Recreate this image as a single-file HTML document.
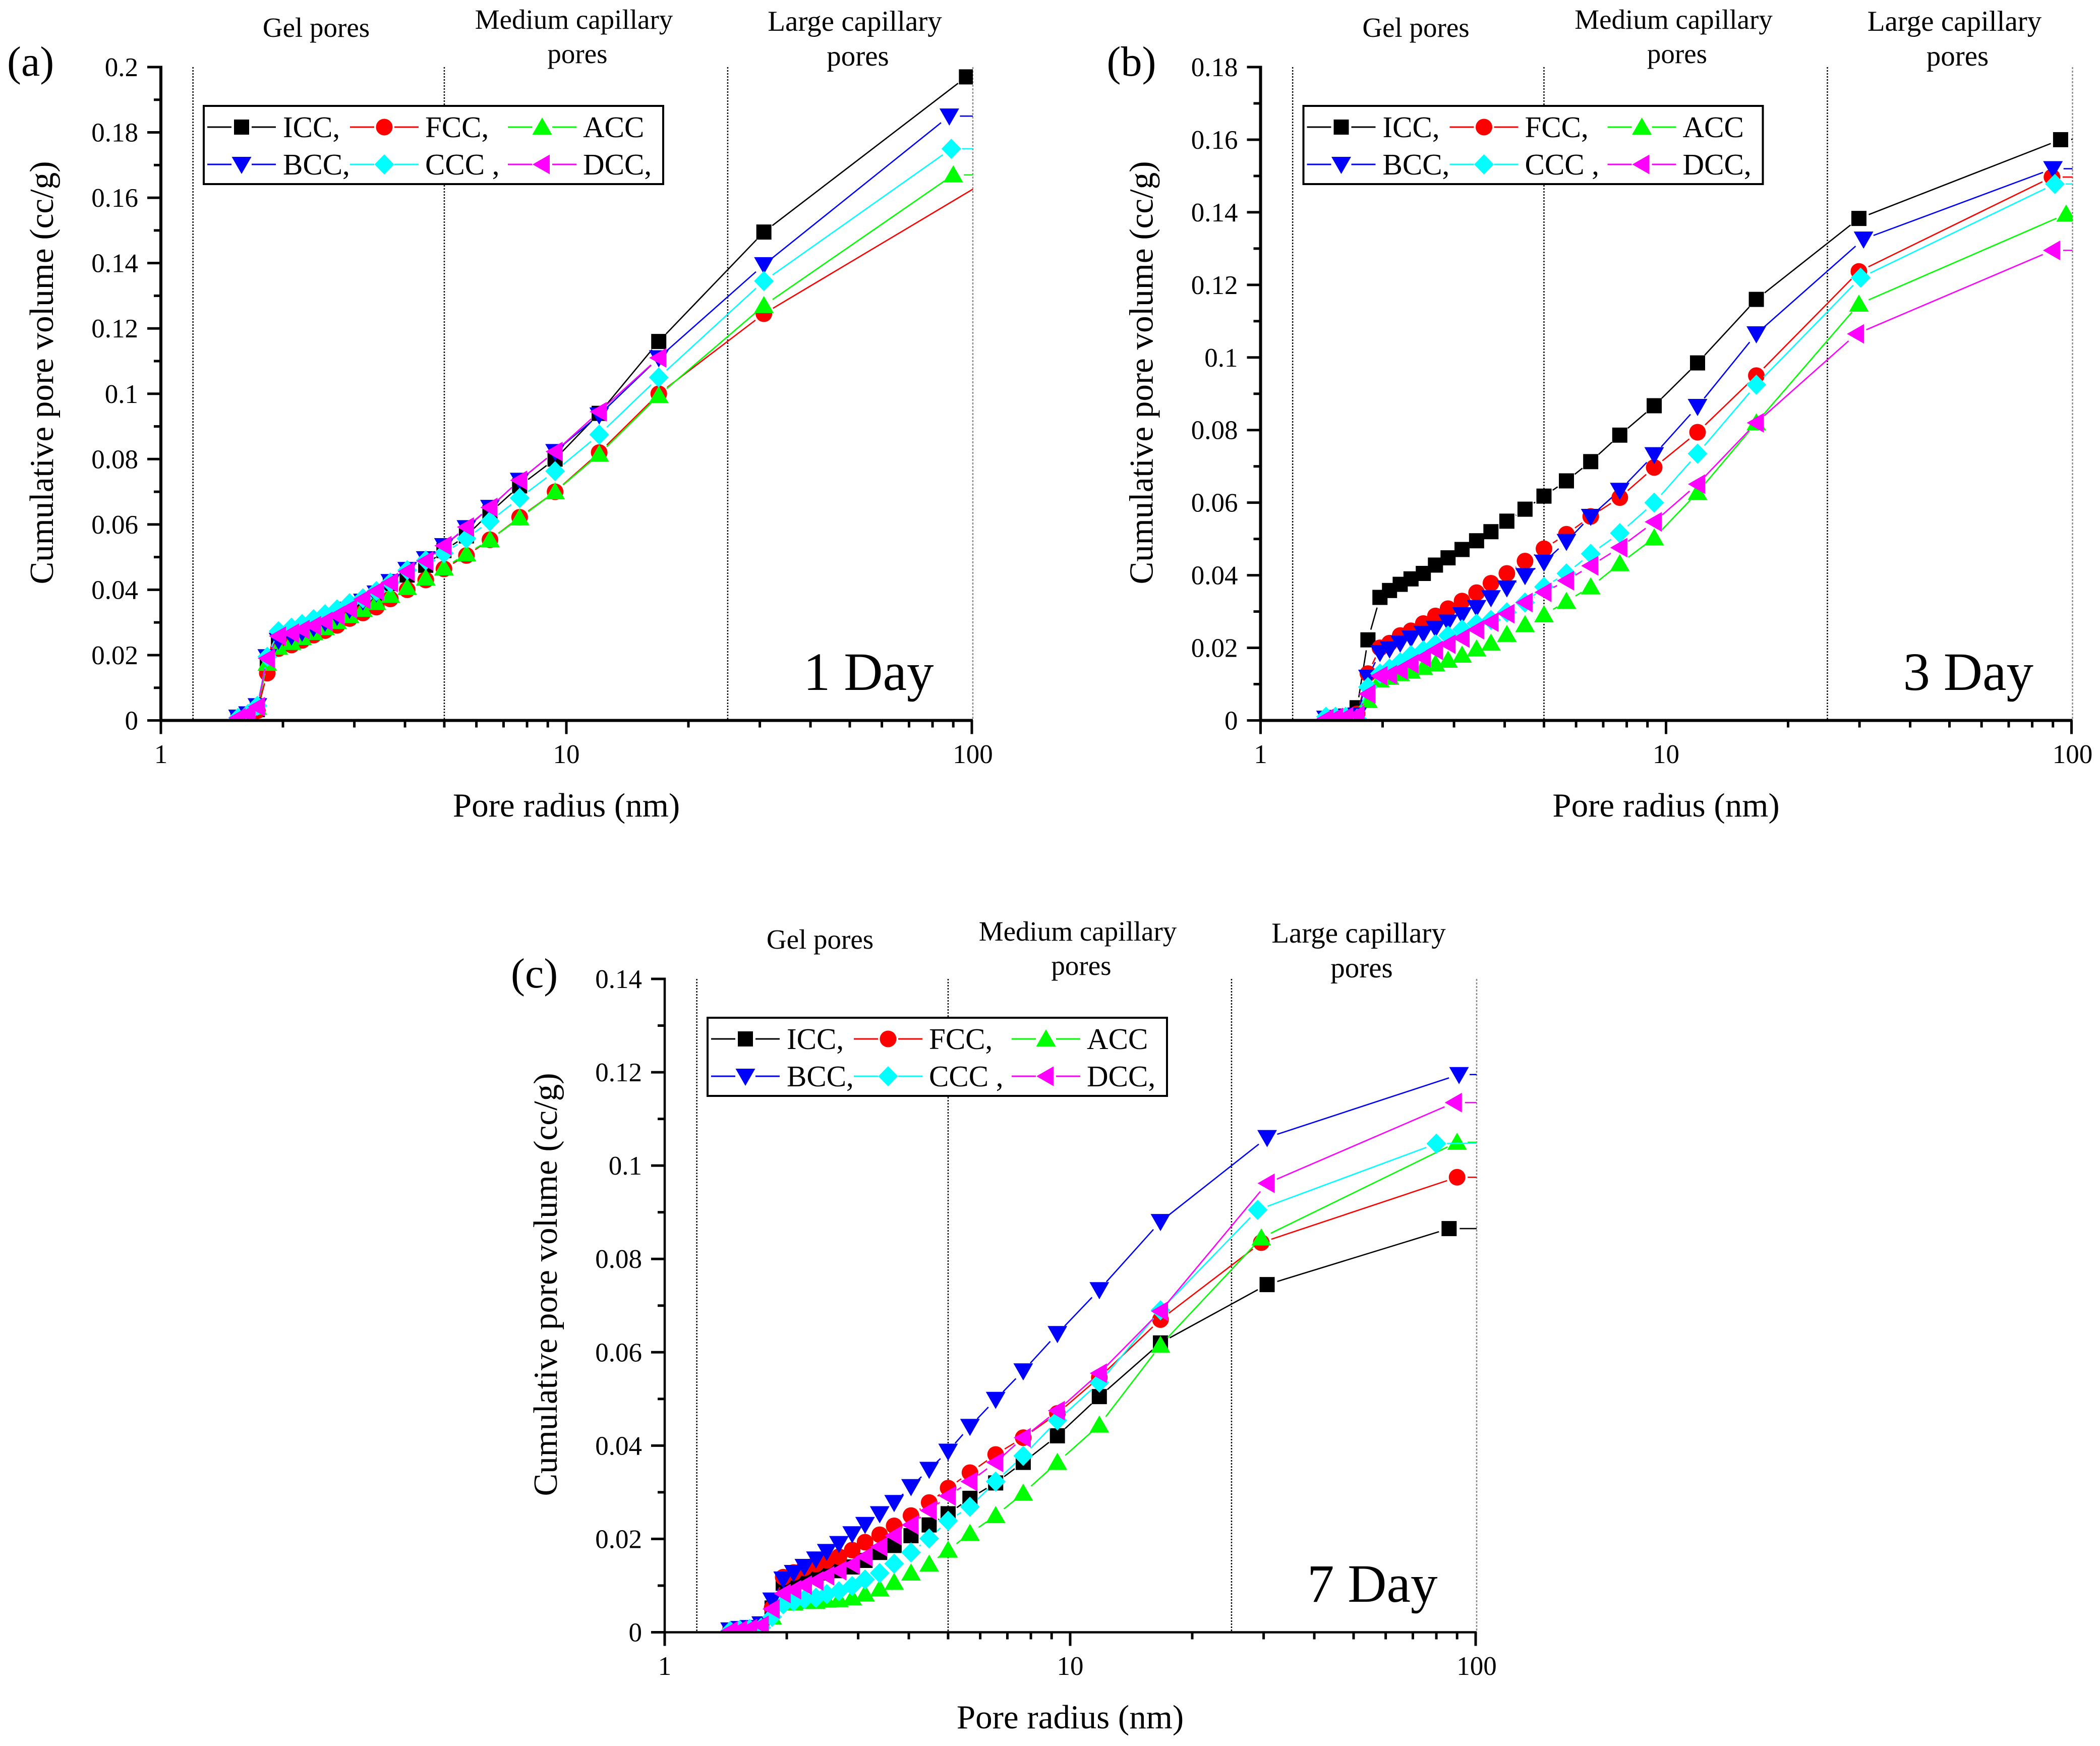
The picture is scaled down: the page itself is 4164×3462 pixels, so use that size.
<!DOCTYPE html>
<html lang="en">
<head>
<meta charset="utf-8">
<title>Cumulative pore volume vs pore radius</title>
<style>
html,body{margin:0;padding:0;background:#fff;}
svg{display:block;}
text{font-family:"Liberation Serif",serif;fill:#000;}
</style>
</head>
<body>
<svg id="figure" xmlns="http://www.w3.org/2000/svg" width="4164" height="3462" viewBox="0 0 4164 3462">
<rect width="4164" height="3462" fill="#fff"/>

<g id="panel-a" transform="translate(0,0)">
<text x="14" y="150" font-size="84">(a)</text>
<text x="627" y="73" font-size="55" text-anchor="middle">Gel pores</text>
<text x="1138" y="57" font-size="55" text-anchor="middle">Medium capillary</text>
<text x="1145" y="125" font-size="55" text-anchor="middle">pores</text>
<text x="1695" y="61" font-size="57" text-anchor="middle">Large capillary</text>
<text x="1701" y="130" font-size="57" text-anchor="middle">pores</text>
<text x="1123" y="1619" font-size="67" text-anchor="middle">Pore radius (nm)</text>
<text transform="translate(105,739) rotate(-90)" font-size="67" text-anchor="middle">Cumulative pore volume (cc/g)</text>
<text x="1593" y="1368" font-size="107">1 Day</text>
</g>

<g id="panel-b" transform="translate(2180.5,0)">
<text x="14" y="150" font-size="84">(b)</text>
<text x="627" y="73" font-size="55" text-anchor="middle">Gel pores</text>
<text x="1138" y="57" font-size="55" text-anchor="middle">Medium capillary</text>
<text x="1145" y="125" font-size="55" text-anchor="middle">pores</text>
<text x="1695" y="61" font-size="57" text-anchor="middle">Large capillary</text>
<text x="1701" y="130" font-size="57" text-anchor="middle">pores</text>
<text x="1123" y="1619" font-size="67" text-anchor="middle">Pore radius (nm)</text>
<text transform="translate(105,739) rotate(-90)" font-size="67" text-anchor="middle">Cumulative pore volume (cc/g)</text>
<text x="1593" y="1368" font-size="107">3 Day</text>
</g>

<g id="panel-c" transform="translate(999,1808)">
<text x="14" y="150" font-size="84">(c)</text>
<text x="627" y="73" font-size="55" text-anchor="middle">Gel pores</text>
<text x="1138" y="57" font-size="55" text-anchor="middle">Medium capillary</text>
<text x="1145" y="125" font-size="55" text-anchor="middle">pores</text>
<text x="1695" y="61" font-size="57" text-anchor="middle">Large capillary</text>
<text x="1701" y="130" font-size="57" text-anchor="middle">pores</text>
<text x="1123" y="1619" font-size="67" text-anchor="middle">Pore radius (nm)</text>
<text transform="translate(105,739) rotate(-90)" font-size="67" text-anchor="middle">Cumulative pore volume (cc/g)</text>
<text x="1593" y="1368" font-size="107">7 Day</text>
</g>
</svg>

<script>
/* ---------- shared categories ---------- */
const seriesNames = ["ICC", "FCC", "ACC", "BCC", "CCC", "DCC"];
const legendLabels = ["ICC,", "FCC,", "ACC", "BCC,", "CCC ,", "DCC,"];
const seriesColors = ["#000000", "#ff0000", "#00ff00", "#0000ff", "#00ffff", "#ff00ff"];
const xTickLabels = ["1", "10", "100"];
const xMinorTicks = [2, 3, 4, 5, 6, 7, 8, 9, 20, 30, 40, 50, 60, 70, 80, 90];
const regionBoundaries = [1.2, 5, 25];

/* ---------- panel (a) 1 day ---------- */
const yTicksA = ["0", "0.02", "0.04", "0.06", "0.08", "0.1", "0.12", "0.14", "0.16", "0.18", "0.2"];
const radiusA = [1.55,1.64,1.73,1.83,1.95,2.10,2.23,2.38,2.54,2.72,2.92,3.15,3.40,3.68,4.05,4.50,4.99,5.67,6.48,7.67,9.38,12.05,16.9];
const iccA = [.0005,.001,.0033,.018,.0239,.0254,.0269,.0284,.0299,.0318,.034,.0362,.0389,.0419,.0445,.0475,.052,.0565,.0636,.0718,.08,.094,.116,.1495,.197,.2];
const fccA = [.0005,.001,.003,.0145,.022,.0231,.0245,.0261,.0275,.0291,.0312,.0329,.0347,.0372,.04,.043,.0464,.0505,.0553,.0622,.07,.082,.1,.1245,.1655,.168];
const accA = [.0007,.0015,.004,.0175,.0224,.0239,.0254,.0269,.0284,.0303,.0321,.034,.0361,.0383,.0407,.0436,.0467,.051,.0553,.062,.07,.0815,.0995,.127,.167,.167];
const bccA = [.001,.002,.0045,.0195,.0245,.0258,.027,.0284,.03,.0318,.034,.0365,.039,.0425,.0462,.0495,.0535,.059,.0652,.0735,.0823,.0935,.111,.1395,.185,.185];
const cccA = [.0008,.002,.0045,.0195,.0273,.0284,.0295,.031,.0325,.034,.0359,.0374,.0396,.0422,.046,.049,.0512,.0557,.061,.0681,.0763,.0875,.105,.1345,.175,.175];
const dccA = [.0008,.002,.0042,.019,.0258,.0267,.0278,.029,.0303,.0321,.0342,.0371,.0396,.0422,.0456,.0488,.0535,.0592,.0652,.0735,.0823,.0945,.111];
const iccEndRadiusA = [30.7, 97, 150];
const fccEndRadiusA = [30.7, 110, 150];
const accEndRadiusA = [30.7, 90, 150];
const bccEndRadiusA = [30.7, 88, 150];
const cccEndRadiusA = [30.7, 89, 150];
const dccEndRadiusA = [];

/* ---------- panel (b) 3 day ---------- */
const yTicksB = ["0", "0.02", "0.04", "0.06", "0.08", "0.1", "0.12", "0.14", "0.16", "0.18"];
const radiusB = [1.45,1.53,1.62,1.73,1.84,1.97,2.08,2.21,2.35,2.52,2.70,2.90,3.14,3.41,3.70,4.05,4.49,5.0,5.68,6.52,7.69,9.35,11.96,16.7];
const iccB = [.0005,.0008,.0012,.0035,.0222,.0339,.0358,.0375,.039,.0405,.0428,.0448,.0471,.0495,.052,.0549,.0582,.0618,.066,.0713,.0786,.0867,.0985,.116,.1383,.16,.1605];
const fccB = [.0005,.0008,.001,.0018,.0129,.02,.0213,.0234,.0247,.0267,.0288,.0308,.0329,.0352,.0378,.0405,.0439,.0473,.0513,.0562,.0614,.0697,.0794,.095,.1237,.1497,.1497];
const accB = [.001,.001,.001,.001,.0055,.0112,.0119,.0129,.0136,.0146,.0156,.0166,.018,.0197,.0213,.0237,.0264,.0291,.0328,.0368,.0432,.0503,.0628,.082,.1147,.1395,.14];
const bccB = [.0006,.0008,.001,.0015,.0119,.0187,.0197,.0213,.0227,.024,.0254,.0271,.0291,.0311,.0338,.0365,.0399,.0436,.0493,.0562,.0634,.0732,.0865,.1065,.1326,.152,.152];
const cccB = [.001,.001,.001,.0005,.0092,.0129,.0143,.016,.018,.0193,.021,.0234,.0251,.0267,.0277,.0298,.0325,.0368,.0405,.0459,.0516,.06,.0735,.0925,.122,.1478,.1478];
const dccB = [.0005,.0008,.001,.0015,.0073,.0123,.0126,.0139,.0156,.0173,.0193,.021,.0227,.025,.0271,.0294,.0325,.0353,.0385,.0426,.0476,.0547,.0651,.082,.1065,.1295,.1295];
const iccEndRadiusB = [29.9, 94, 150];
const fccEndRadiusB = [29.9, 89.5, 150];
const accEndRadiusB = [29.9, 97, 150];
const bccEndRadiusB = [30.7, 90, 150];
const cccEndRadiusB = [30.2, 91, 150];
const dccEndRadiusB = [29.5, 89.8, 150];

/* ---------- panel (c) 7 day ---------- */
const yTicksC = ["0", "0.02", "0.04", "0.06", "0.08", "0.1", "0.12", "0.14"];
const radiusC = [1.45,1.53,1.62,1.73,1.84,1.96,2.08,2.21,2.36,2.51,2.69,2.9,3.12,3.39,3.68,4.05,4.49,5.0,5.66,6.55,7.66,9.3,11.8,16.7];
const iccC = [.0003,.0005,.0008,.0015,.0052,.0105,.0107,.0115,.0121,.0127,.0132,.014,.0154,.0171,.0186,.0207,.023,.0254,.0287,.032,.0364,.0421,.0505,.062,.0745,.0865,.0865];
const fccC = [.0003,.0005,.0008,.0015,.0052,.0118,.0128,.0138,.0146,.0154,.0162,.0176,.0193,.0209,.0228,.025,.0278,.0309,.0342,.0381,.0417,.0469,.0546,.067,.0835,.0975,.0975];
const accC = [.0003,.0005,.0007,.001,.0033,.0063,.0063,.0066,.0066,.0069,.007,.0074,.0082,.0093,.0107,.0127,.0146,.0176,.0212,.025,.0298,.0364,.0444,.0615,.0845,.105,.105];
const bccC = [.0005,.0008,.001,.0018,.0069,.0114,.0128,.0141,.0157,.0173,.019,.0211,.0231,.0254,.0278,.0312,.0349,.0388,.0441,.0499,.056,.064,.0734,.088,.106,.1195,.1195];
const cccC = [.0003,.0005,.0007,.001,.0033,.006,.0066,.0071,.0074,.0082,.0088,.0099,.0113,.0127,.0147,.0171,.0201,.0239,.0269,.0323,.0378,.0454,.0535,.069,.0905,.1047,.105];
const dccC = [.0003,.0005,.0008,.0015,.005,.0083,.0091,.0101,.011,.0121,.0132,.0145,.0162,.0183,.0207,.023,.0261,.0292,.0323,.0364,.0417,.0475,.0555,.0688,.0962,.1135,.1135];
const iccEndRadiusC = [30.6, 86, 150];
const fccEndRadiusC = [29.6, 90, 150];
const accEndRadiusC = [29.6, 90, 150];
const bccEndRadiusC = [30.6, 91, 150];
const cccEndRadiusC = [29, 80, 150];
const dccEndRadiusC = [30.6, 88.6, 150];

/* ---------- shared axis geometry (panel-local coordinates) ---------- */
const axisLeft = 319;
const decadeWidth = 804;
const axisBase = 1428.5;
const axisTop = 133;
const segmentGap = 21;
const SVGNS = "http://www.w3.org/2000/svg";

function xScale(r) { return axisLeft + Math.log10(r) * decadeWidth; }
function yScaleFor(yMax) { return function (v) { return axisBase - (v / yMax) * (axisBase - axisTop); }; }
function mk(tag, parent, attrs) {
  const el = document.createElementNS(SVGNS, tag);
  for (const k in attrs) el.setAttribute(k, attrs[k]);
  parent.appendChild(el);
  return el;
}
function markerShape(parent, idx, cx, cy, color) {
  let el;
  if (idx === 0) {
    el = mk("rect", parent, { x: cx - 15, y: cy - 15, width: 30, height: 30, fill: color });
  } else if (idx === 1) {
    el = mk("circle", parent, { cx: cx, cy: cy, r: 16.5, fill: color });
  } else {
    const shapes = {
      2: [[0, -19], [19.5, 15], [-19.5, 15]],
      3: [[0, 19], [19.5, -15], [-19.5, -15]],
      4: [[0, -20], [19.5, 0], [0, 20], [-19.5, 0]],
      5: [[-19, 0], [15, -19.5], [15, 19.5]]
    };
    const pts = shapes[idx].map(function (p) { return (cx + p[0]) + "," + (cy + p[1]); }).join(" ");
    el = mk("polygon", parent, { points: pts, fill: color });
  }
  return el;
}

function drawPanel(group, panelId, yTickLabels, yMax, radius, valueArrays, endRadiusArrays, axisWidth) {
  const yScale = yScaleFor(yMax);
  const right = xScale(100);

  regionBoundaries.forEach(function (b) {
    const line = mk("line", group, { x1: xScale(b), x2: xScale(b), y1: axisTop, y2: axisBase, stroke: "#000", "stroke-width": 2.5, "stroke-dasharray": "3 3" });
    
    
  });
  const endLine = mk("line", group, { x1: right + 2, x2: right + 2, y1: axisTop, y2: axisBase, stroke: "#8a8a8a", "stroke-width": 2.5, "stroke-dasharray": "4 3" });
  
  

  const clip = mk("clipPath", group, { id: "clip-" + panelId });
  mk("rect", clip, { x: axisLeft, y: axisTop - 30, width: right - axisLeft + 2, height: axisBase - axisTop + 30 });

  const plot = mk("g", group, { "clip-path": "url(#clip-" + panelId + ")" });
  
  

  valueArrays.forEach(function (values, s) {
    const color = seriesColors[s];
    const ser = mk("g", plot, {});
    
    
    const pts = values.map(function (v, i) {
      const r = i < radius.length ? radius[i] : endRadiusArrays[s][i - radius.length];
      return [xScale(r), yScale(v)];
    });
    for (let i = 0; i < pts.length - 1; i++) {
      const dx = pts[i + 1][0] - pts[i][0];
      const dy = pts[i + 1][1] - pts[i][1];
      const len = Math.sqrt(dx * dx + dy * dy);
      if (len <= 2 * segmentGap) continue;
      const ux = dx / len, uy = dy / len;
      const seg = mk("line", ser, {
        x1: pts[i][0] + ux * segmentGap, y1: pts[i][1] + uy * segmentGap,
        x2: pts[i + 1][0] - ux * segmentGap, y2: pts[i + 1][1] - uy * segmentGap,
        stroke: color, "stroke-width": 2.6
      });
      
      
    }
    pts.forEach(function (p) {
      const m = markerShape(ser, s, p[0], p[1], color);
      
      
    });
  });

  /* axes */
  const yAxis = mk("line", group, { x1: axisLeft, x2: axisLeft, y1: axisTop - 2.5, y2: axisBase, stroke: "#000", "stroke-width": axisWidth });
  
  
  const xAxis = mk("line", group, { x1: axisLeft, x2: right + 2, y1: axisBase, y2: axisBase, stroke: "#000", "stroke-width": axisWidth });
  
  

  yTickLabels.forEach(function (label, i) {
    const value = i * 0.02;
    const y = yScale(value);
    const t = mk("line", group, { x1: axisLeft - 27, x2: axisLeft, y1: y, y2: y, stroke: "#000", "stroke-width": 5 });
    
    
    const tx = mk("text", group, { x: 274, y: y + 18, "font-size": 53, "text-anchor": "end" });
    tx.textContent = label;
    
    
    if (i < yTickLabels.length - 1) {
      const my = yScale(value + 0.01);
      const mt = mk("line", group, { x1: axisLeft - 14, x2: axisLeft, y1: my, y2: my, stroke: "#000", "stroke-width": 5 });
      
      
    }
  });

  xTickLabels.forEach(function (label) {
    const x = xScale(Number(label));
    const t = mk("line", group, { x1: x, x2: x, y1: axisBase, y2: axisBase + 27, stroke: "#000", "stroke-width": 5 });
    
    
    const tx = mk("text", group, { x: x + (label === "100" ? 2 : 0), y: 1513, "font-size": 53, "text-anchor": "middle" });
    tx.textContent = label;
    
    
  });
  xMinorTicks.forEach(function (r) {
    const x = xScale(r);
    const t = mk("line", group, { x1: x, x2: x, y1: axisBase, y2: axisBase + 14, stroke: "#000", "stroke-width": 5 });
    
    
  });

  /* legend */
  const legend = mk("g", group, {});
  
  
  const box = mk("rect", legend, { x: 404, y: 210, width: 911, height: 155, fill: "#fff", stroke: "#000", "stroke-width": 4 });
  
  
  const colLineX = [411, 694, 1007];
  const colTextX = [561, 843, 1156];
  const rowY = [252, 326];
  seriesNames.forEach(function (name, s) {
    const col = s % 3, row = Math.floor(s / 3);
    const entry = mk("g", legend, {});
    
    
    const cy = rowY[row], lx = colLineX[col], cx = lx + 68;
    const left = mk("line", entry, { x1: lx, x2: lx + 48, y1: cy, y2: cy, stroke: seriesColors[s], "stroke-width": 3 });
    
    
    const rightSeg = mk("line", entry, { x1: lx + 88, x2: lx + 136, y1: cy, y2: cy, stroke: seriesColors[s], "stroke-width": 3 });
    
    
    const m = markerShape(entry, s, cx, cy, seriesColors[s]);
    
    
    const tx = mk("text", entry, { x: colTextX[col], y: cy + 20, "font-size": 59 });
    tx.textContent = legendLabels[s];
    
    
  });
}

drawPanel(document.getElementById("panel-a"), "a", yTicksA, 0.2, radiusA,
  [iccA, fccA, accA, bccA, cccA, dccA],
  [iccEndRadiusA, fccEndRadiusA, accEndRadiusA, bccEndRadiusA, cccEndRadiusA, dccEndRadiusA], 6);
drawPanel(document.getElementById("panel-b"), "b", yTicksB, 0.18, radiusB,
  [iccB, fccB, accB, bccB, cccB, dccB],
  [iccEndRadiusB, fccEndRadiusB, accEndRadiusB, bccEndRadiusB, cccEndRadiusB, dccEndRadiusB], 6);
drawPanel(document.getElementById("panel-c"), "c", yTicksC, 0.14, radiusC,
  [iccC, fccC, accC, bccC, cccC, dccC],
  [iccEndRadiusC, fccEndRadiusC, accEndRadiusC, bccEndRadiusC, cccEndRadiusC, dccEndRadiusC], 4.5);
</script>
</body>
</html>
